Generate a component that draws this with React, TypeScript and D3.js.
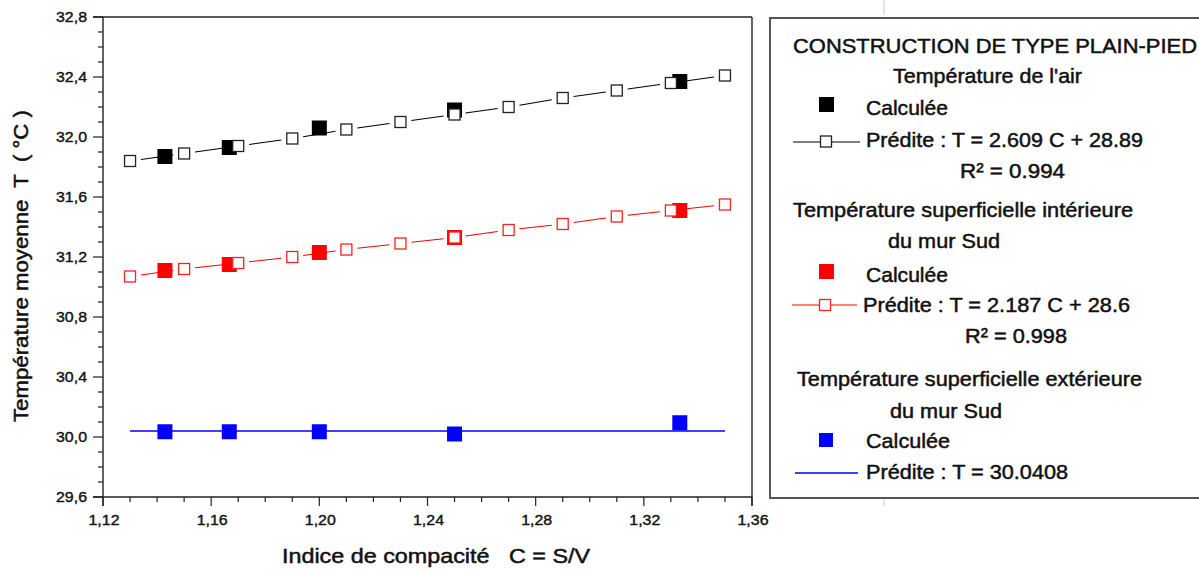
import React from "react";
import * as d3 from "d3";

// ---- Data ----
const calcC = [1.1429, 1.1667, 1.2, 1.25, 1.3333];
const airCalc = [31.87, 31.93, 32.06, 32.18, 32.37];
const intCalc = [31.11, 31.15, 31.23, 31.33, 31.51];
const extCalc = [30.035, 30.035, 30.035, 30.02, 30.095];

const predC = [1.13, 1.15, 1.17, 1.19, 1.21, 1.23, 1.25, 1.27, 1.29, 1.31, 1.33, 1.35];
const airPred = [31.84, 31.89, 31.94, 31.99, 32.05, 32.1, 32.15, 32.2, 32.26, 32.31, 32.36, 32.41];
const intPred = [31.07, 31.12, 31.16, 31.2, 31.25, 31.29, 31.33, 31.38, 31.42, 31.47, 31.51, 31.55];
const extPredC = [1.13, 1.35];
const extPred = [30.0408, 30.0408];

const xTicks = [1.12, 1.16, 1.2, 1.24, 1.28, 1.32, 1.36];
const xTickLabels = ["1,12", "1,16", "1,20", "1,24", "1,28", "1,32", "1,36"];
const yTicks = [29.6, 30.0, 30.4, 30.8, 31.2, 31.6, 32.0, 32.4, 32.8];
const yTickLabels = ["29,6", "30,0", "30,4", "30,8", "31,2", "31,6", "32,0", "32,4", "32,8"];

const FONT = "'Liberation Sans', Arial, sans-serif";
const PRE: React.CSSProperties = { whiteSpace: "pre" };

export default function App() {
  const L = 103, R = 752, T = 17, B = 497;
  const x = d3.scaleLinear().domain([1.12, 1.36]).range([L, R]);
  const y = d3.scaleLinear().domain([29.6, 32.8]).range([B, T]);

  const xMinor = d3.range(0, 25).map((i) => 1.12 + i * 0.01);
  const yMinor = d3.range(0, 33).map((i) => 29.6 + i * 0.1);

  const gapSegments = (cs: number[], vs: number[], gap: number) => {
    const segs: [number, number, number, number][] = [];
    for (let i = 0; i < cs.length - 1; i++) {
      const x1 = x(cs[i]), y1 = y(vs[i]), x2 = x(cs[i + 1]), y2 = y(vs[i + 1]);
      const dx = x2 - x1, dy = y2 - y1;
      const len = Math.hypot(dx, dy);
      const ux = dx / len, uy = dy / len;
      segs.push([x1 + ux * gap, y1 + uy * gap, x2 - ux * gap, y2 - uy * gap]);
    }
    return segs;
  };
  const lineGen = d3.line<[number, number]>().x((d) => x(d[0])).y((d) => y(d[1]));

  const filled = (cs: number[], vs: number[], color: string, key: string) =>
    cs.map((c, i) => (
      <rect key={key + i} x={x(c) - 7.5} y={y(vs[i]) - 7.5} width={15} height={15} fill={color} />
    ));
  const open = (cs: number[], vs: number[], color: string, key: string) =>
    cs.map((c, i) => (
      <rect key={key + i} x={x(c) - 5.5} y={y(vs[i]) - 5.5} width={11} height={11} fill="#fff" stroke={color} strokeWidth={1.3} />
    ));
  const segs = (cs: number[], vs: number[], color: string, key: string) =>
    gapSegments(cs, vs, 11).map((s, i) => (
      <line key={key + i} x1={s[0]} y1={s[1]} x2={s[2]} y2={s[3]} stroke={color} strokeWidth={1.1} />
    ));

  const txt = (s: string, x0: number, x1: number, base: number, size = 21, key?: string) => (
    <text key={key} x={x0} y={base} fontSize={size} textLength={x1 - x0} lengthAdjust="spacingAndGlyphs"
      fill="#111" stroke="#111" strokeWidth={0.5} style={PRE}>
      {s}
    </text>
  );

  return (
    <svg width={1199} height={570} style={{ position: "absolute", left: 0, top: 0, background: "#fff" }} fontFamily={FONT}>
      <rect x={0} y={0} width={1199} height={570} fill="#fff" />
      {/* faint remnants */}
      <line x1={884} y1={0} x2={884} y2={15} stroke="#ccc" strokeWidth={1} />
      <line x1={884} y1={499} x2={884} y2={506} stroke="#ccc" strokeWidth={1} />

      {/* frame */}
      <line x1={L - 10} y1={T} x2={R} y2={T} stroke="#222" strokeWidth={1.4} />
      <line x1={R} y1={T} x2={R} y2={B + 9} stroke="#222" strokeWidth={1.4} />
      <line x1={L} y1={T} x2={L} y2={B + 9} stroke="#222" strokeWidth={1.4} />
      <line x1={L - 10} y1={B} x2={R} y2={B} stroke="#222" strokeWidth={1.4} />

      {/* y ticks */}
      {yMinor.map((v, i) => (
        <line key={"ym" + i} x1={L - (i % 4 === 0 ? 10 : 5)} x2={L} y1={y(v)} y2={y(v)} stroke="#222" strokeWidth={1.2} />
      ))}
      {yTicks.map((v, i) => (
        <text key={"yl" + i} x={87} y={y(v) + 5} fontSize={15} textAnchor="end" fill="#111" stroke="#111" strokeWidth={0.4}
          textLength={31} lengthAdjust="spacingAndGlyphs">
          {yTickLabels[i]}
        </text>
      ))}
      {/* x ticks */}
      {xMinor.map((v, i) => (
        <line key={"xm" + i} y1={B} y2={B + (i % 4 === 0 ? 9 : 5)} x1={x(v)} x2={x(v)} stroke="#222" strokeWidth={1.2} />
      ))}
      {xTicks.map((v, i) => (
        <text key={"xl" + i} x={x(v) + 1} y={525} fontSize={15} textAnchor="middle" fill="#111" stroke="#111" strokeWidth={0.4}
          textLength={31} lengthAdjust="spacingAndGlyphs">
          {xTickLabels[i]}
        </text>
      ))}

      {/* axis titles */}
      <text transform="translate(28,266) rotate(-90)" textAnchor="middle" fontSize={21} fill="#111" stroke="#111" strokeWidth={0.5}
        textLength={312} lengthAdjust="spacingAndGlyphs" style={PRE}>
        {"Température moyenne  T  ( °C )"}
      </text>
      <text x={282} y={563} fontSize={21} fill="#111" stroke="#111" strokeWidth={0.5} textLength={308} lengthAdjust="spacingAndGlyphs" style={PRE}>
        {"Indice de compacité   C = S/V"}
      </text>

      {/* data */}
      {filled(calcC, airCalc, "#000", "ac")}
      {filled(calcC, intCalc, "#ff0000", "ic")}
      {filled(calcC, extCalc, "#0000ff", "ec")}
      {segs(predC, airPred, "#000", "as")}
      {segs(predC, intPred, "#ff0000", "is")}
      <path d={lineGen(extPredC.map((c, i) => [c, extPred[i]] as [number, number])) || ""} fill="none" stroke="#0000ff" strokeWidth={1.5} />
      {open(predC, airPred, "#222", "ao")}
      {open(predC, intPred, "#ff2020", "io")}

      {/* legend */}
      <rect x={770} y={18} width={440} height={480} fill="none" stroke="#555" strokeWidth={2} />
      {txt("CONSTRUCTION DE TYPE PLAIN-PIED", 793, 1197, 53, 21, "t0")}
      {txt("Température de l'air", 893, 1082, 83, 21, "t1")}
      <rect x={819} y={97} width={15} height={15} fill="#000" />
      {txt("Calculée", 866, 948, 115, 21, "t2")}
      <line x1={793} y1={142} x2={860} y2={142} stroke="#000" strokeWidth={1.1} />
      <rect x={820.5} y={136} width={11} height={11} fill="#fff" stroke="#222" strokeWidth={1.3} />
      {txt("Prédite : T = 2.609 C + 28.89", 866, 1143, 147, 21, "t3")}
      {txt("R² = 0.994", 960, 1065, 178, 21, "t4")}
      {txt("Température superficielle intérieure", 793, 1133, 217, 21, "t5")}
      {txt("du mur Sud", 888, 1000, 248, 21, "t6")}
      <rect x={819} y={264} width={15} height={15} fill="#ff0000" />
      {txt("Calculée", 866, 948, 282, 21, "t7")}
      <line x1={792} y1={305} x2={857} y2={305} stroke="#ff0000" strokeWidth={1.1} />
      <rect x={819.5} y={299.5} width={11} height={11} fill="#fff" stroke="#ff2020" strokeWidth={1.3} />
      {txt("Prédite : T = 2.187 C + 28.6", 863, 1130, 312, 21, "t8")}
      {txt("R² = 0.998", 965, 1067, 343, 21, "t9")}
      {txt("Température superficielle extérieure", 797, 1142, 386, 21, "t10")}
      {txt("du mur Sud", 890, 1002, 418, 21, "t11")}
      <rect x={819} y={433} width={14} height={14} fill="#0000ff" />
      {txt("Calculée", 866, 950, 448, 21, "t12")}
      <line x1={795} y1={473} x2={858} y2={473} stroke="#0000ff" strokeWidth={1.3} />
      {txt("Prédite : T = 30.0408", 866, 1068, 479, 21, "t13")}
    </svg>
  );
}
